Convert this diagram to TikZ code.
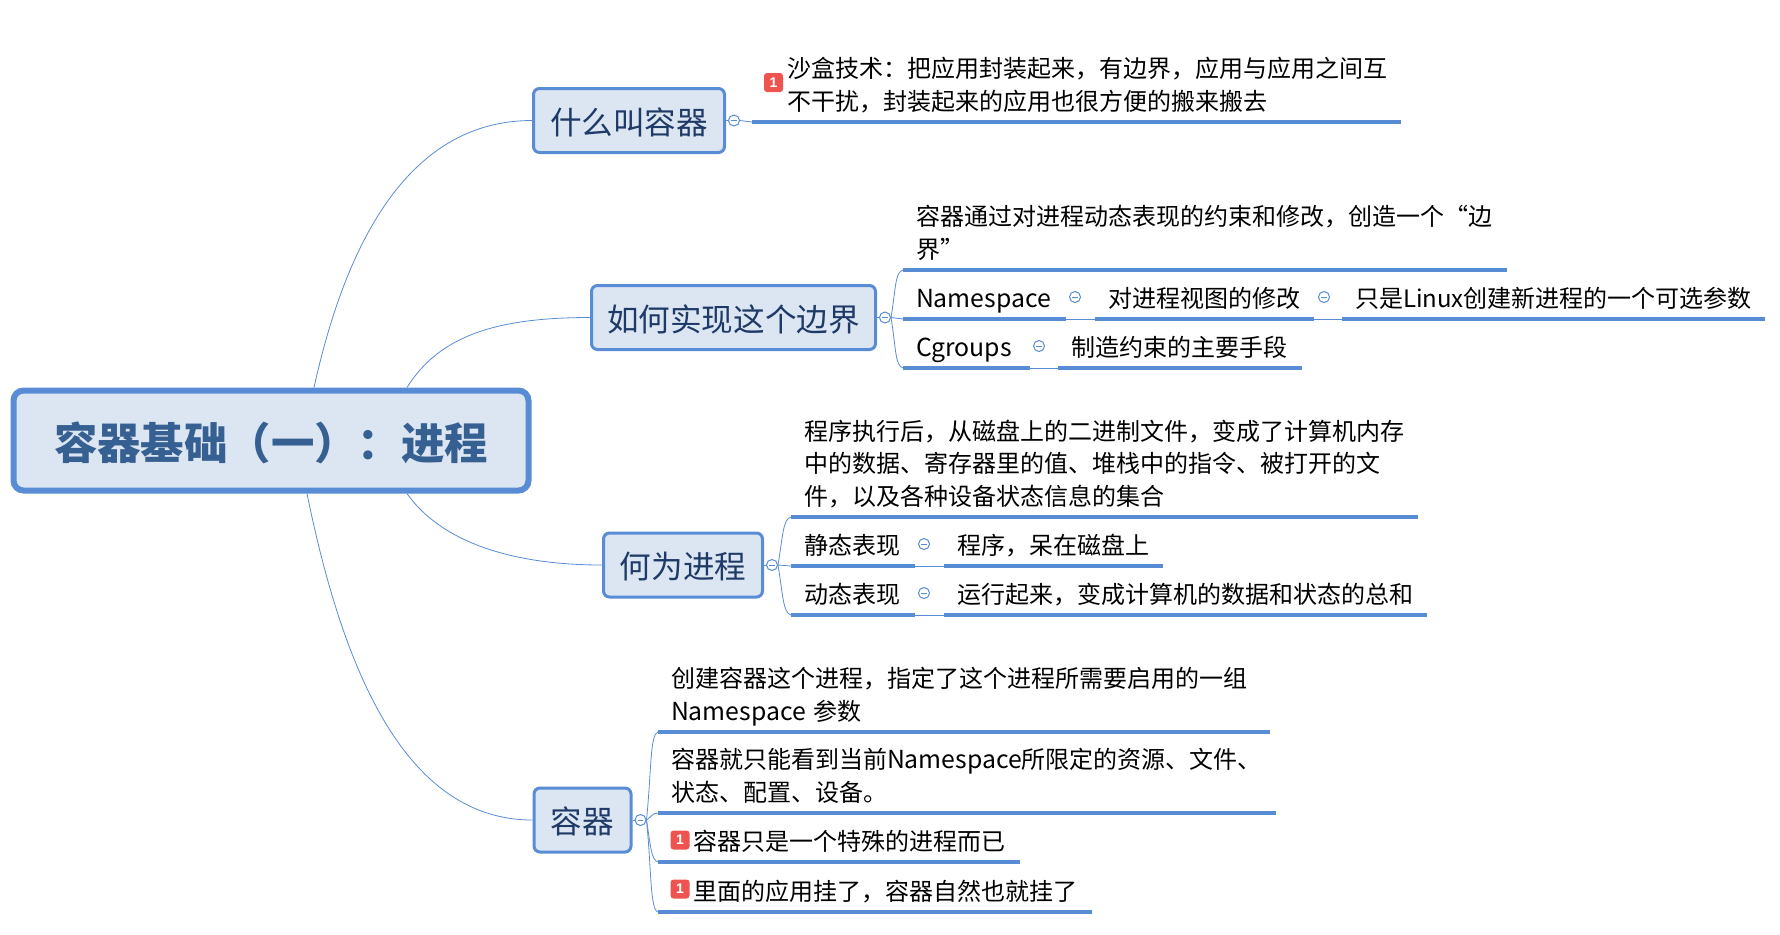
\documentclass[tikz,border=0pt]{standalone}
\usepackage{fontspec}
\setmainfont{Noto Sans CJK SC}
\newfontfamily\badgefont{Liberation Sans}
\usepackage{xcolor}
\usetikzlibrary{positioning}
\definecolor{linec}{HTML}{588CD4}
\definecolor{boxc}{HTML}{DCE6F3}
\definecolor{titlec}{HTML}{366092}
\definecolor{headc}{HTML}{1F3A66}
\definecolor{badgec}{HTML}{EF5350}
\newcommand{\wide}[1]{{\fontsize{12.4}{16.25}\selectfont #1}}

\begin{document}
\begin{tikzpicture}[
    x=0.5pt, y=-0.5pt,
    box/.style={draw=linec, fill=boxc, line width=1.5pt, rounded corners=3pt, minimum height=32pt,
                inner sep=0pt, text height=16pt, text depth=2.5pt, text=headc, font=\fontsize{15.8}{19}\selectfont},
    rootbox/.style={box, line width=3pt, rounded corners=5pt, minimum width=257.5pt, minimum height=50pt,
                text height=22pt, text depth=3.1pt, text=titlec, font=\fontsize{21.7}{26}\selectfont\bfseries},
    leaf/.style={anchor=south west, outer sep=0pt, inner xsep=6.5pt, inner ysep=1pt, text width=#1-13pt,
                align=left, font=\fontsize{12}{16.25}\selectfont,
                execute at begin node=\strut, execute at end node=\strut},
    flagged/.style={leaf=#1, inner xsep=17.5pt, text width=#1-35pt},
    badge/.style={fill=badgec, rounded corners=1.5pt, minimum size=9.5pt, inner sep=0pt, text=white,
                font=\fontsize{7}{8}\badgefont\bfseries},
    fold/.style={draw=linec, circle, fill=white, line width=0.5pt, minimum size=5.5pt, inner sep=0pt,
                path picture={\draw[linec, line width=0.4pt] ([xshift=-1.3pt]path picture bounding box.center)
                -- ([xshift=1.3pt]path picture bounding box.center);}},
    link/.style={draw=linec, line width=0.4pt},
    rule/.style={draw=linec, line width=1.7pt}
]
\useasboundingbox (0,0) rectangle (1780,934);

\node[rootbox] (root) at (271,440.5) {容器基础（一）：进程};
\node[box, minimum width=95.5pt] (sandbox) at (629,120.5) {什么叫容器};
\node[box, minimum width=142pt] (border) at (733.5,317.5) {如何实现这个边界};
\node[box, minimum width=79.5pt] (process) at (683,565) {何为进程};
\node[box, minimum width=48.5pt] (container) at (582.5,820) {容器};

\node[fold, right=1pt of sandbox] (foldsandbox) {};
\node[fold, right=1pt of border] (foldborder) {};
\node[fold, right=1pt of process] (foldprocess) {};
\node[fold, right=1pt of container] (foldcontainer) {};

% first branch
\node[flagged=324.5pt] (tech) at (752,122) {沙盒技术：把应用封装起来，有边界，应用与应用之间互\\不干扰，封装起来的应用也很方便的搬来搬去};
\node[badge] (badgetech) at (773.5,82.5) {1};

% second branch
\node[leaf=302pt] (limit) at (903,270) {容器通过对进程动态表现的约束和修改，创造一个“边\\界”};
\node[leaf=81.5pt] (ns) at (903,319) {\wide{Namespace}};
\node[leaf=109.5pt, right=14.5pt of ns] (nsview) {对进程视图的修改};
\node[leaf=211.5pt, right=14pt of nsview] (nsopt) {只是Linux创建新进程的一个可选参数};
\node[leaf=63.5pt] (cg) at (903,368) {\wide{Cgroups}};
\node[leaf=122pt, right=14pt of cg] (cgmain) {制造约束的主要手段};
\node[fold] (foldns) at (1075,297) {};
\node[fold] (foldview) at (1324,297) {};
\node[fold] (foldcg) at (1039,346) {};

% third branch
\node[leaf=313.5pt] (define) at (791,517) {程序执行后，从磁盘上的二进制文件，变成了计算机内存\\中的数据、寄存器里的值、堆栈中的指令、被打开的文\\件，以及各种设备状态信息的集合};
\node[leaf=62pt] (still) at (791,566) {静态表现};
\node[leaf=109.5pt, right=14.5pt of still] (stillres) {程序，呆在磁盘上};
\node[leaf=62pt] (move) at (791,615) {动态表现};
\node[leaf=241.5pt, right=14.5pt of move] (moveres) {运行起来，变成计算机的数据和状态的总和};
\node[fold] (foldstill) at (924,544) {};
\node[fold] (foldmove) at (924,593) {};

% fourth branch
\node[leaf=306pt] (create) at (658,732) {创建容器这个进程，指定了这个进程所需要启用的一组\\\wide{Namespace} 参数};
\node[leaf=309pt] (see) at (658,813) {容器就只能看到当前\wide{Namespace}所限定的资源、文件、\\状态、配置、设备。};
\node[flagged=181pt] (special) at (658,862) {容器只是一个特殊的进程而已};
\node[flagged=217pt] (dead) at (658,912) {里面的应用挂了，容器自然也就挂了};
\node[badge] (badgespecial) at (680,840) {1};
\node[badge] (badgedead) at (680,889) {1};

\foreach \n in {tech,limit,ns,nsview,nsopt,cg,cgmain,define,still,stillres,move,moveres,create,see,special,dead}
    \draw[rule] (\n.south west) -- (\n.south east);

\draw[link] ([xshift=21.5pt]root.north) .. controls +(36,-163) and +(-114,0) .. (sandbox.west);
\draw[link] ([xshift=68pt]root.north) .. controls +(33,-53) and +(-91,0) .. (border.west);
\draw[link] ([xshift=68pt]root.south) .. controls +(33,47) and +(-93,0) .. (process.west);
\draw[link] ([xshift=18pt]root.south) .. controls +(38,187) and +(-123,0) .. (container.west);

\draw[link] (sandbox.east) -- (foldsandbox.west);
\draw[link] (border.east) -- (foldborder.west);
\draw[link] (process.east) -- (foldprocess.west);
\draw[link] (container.east) -- (foldcontainer.west);

\draw[link] (foldsandbox.east) -- (tech.south west);

\draw[link] (foldborder.east) .. controls +(5,-30) and +(-8,2) .. (limit.south west);
\draw[link] (foldborder.east) -- (ns.south west);
\draw[link] (foldborder.east) .. controls +(5,30) and +(-8,-2) .. (cg.south west);
\draw[link] (ns.south east) -- (nsview.south west);
\draw[link] (nsview.south east) -- (nsopt.south west);
\draw[link] (cg.south east) -- (cgmain.south west);

\draw[link] (foldprocess.east) .. controls +(5,-30) and +(-8,2) .. (define.south west);
\draw[link] (foldprocess.east) -- (still.south west);
\draw[link] (foldprocess.east) .. controls +(5,30) and +(-8,-2) .. (move.south west);
\draw[link] (still.south east) -- (stillres.south west);
\draw[link] (move.south east) -- (moveres.south west);

\draw[link] (foldcontainer.east) .. controls +(5,-50) and +(-8,2) .. (create.south west);
\draw[link] (foldcontainer.east) .. controls +(5,-3) and +(-6,0) .. (see.south west);
\draw[link] (foldcontainer.east) .. controls +(4,25) and +(-7,-2) .. (special.south west);
\draw[link] (foldcontainer.east) .. controls +(5,50) and +(-8,-2) .. (dead.south west);
\end{tikzpicture}
\end{document}
